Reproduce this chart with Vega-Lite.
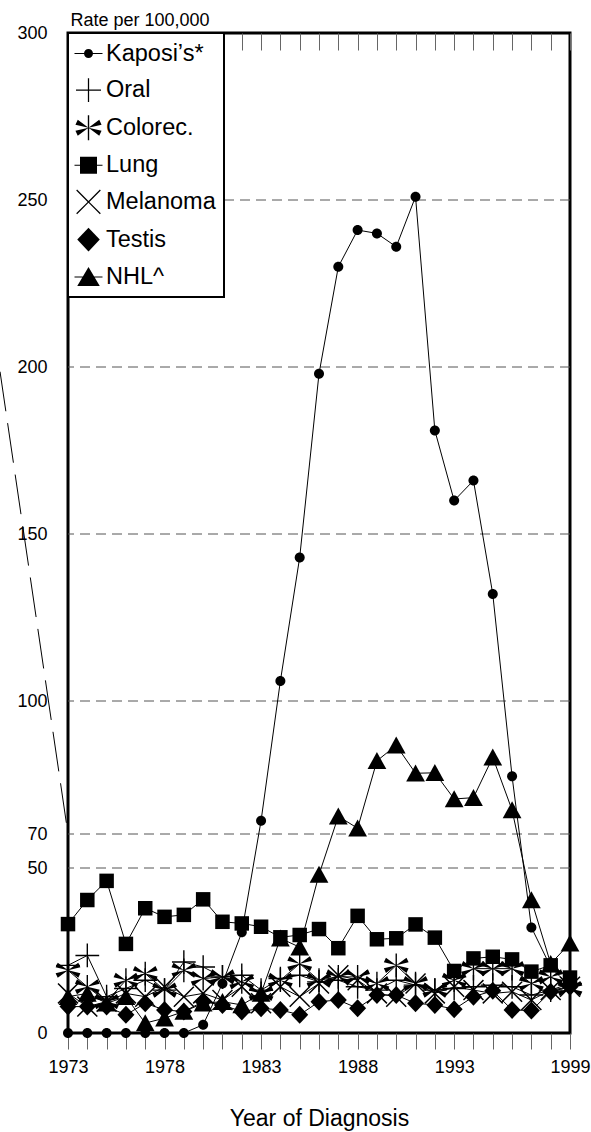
{
  "$schema": "https://vega.github.io/schema/vega-lite/v6.json",
  "width": 502,
  "height": 1000,
  "autosize": {"type": "none"},
  "padding": {"left": 68, "top": 33, "right": 21, "bottom": 99},
  "background": "white",
  "config": {
    "font": "Liberation Sans",
    "view": {"stroke": "black", "strokeWidth": 3},
    "axis": {"labelColor": "black", "titleColor": "black", "titleFontWeight": "normal"},
    "legend": {"strokeWidth": 2}
  },
  "datasets": {
    "breakline": [{"year": 1969.48, "rate": 198.6, "year2": 1973, "rate2": 70}],
    "gridlines": [{"rate": 50}, {"rate": 70}, {"rate": 100}, {"rate": 150}, {"rate": 200}, {"rate": 250}],
    "cancer": [
      {"year":1973,"series":"Kaposi’s*","rate":0},{"year":1974,"series":"Kaposi’s*","rate":0},{"year":1975,"series":"Kaposi’s*","rate":0},{"year":1976,"series":"Kaposi’s*","rate":0},{"year":1977,"series":"Kaposi’s*","rate":0},{"year":1978,"series":"Kaposi’s*","rate":0},{"year":1979,"series":"Kaposi’s*","rate":0},{"year":1980,"series":"Kaposi’s*","rate":2.5},{"year":1981,"series":"Kaposi’s*","rate":15},{"year":1982,"series":"Kaposi’s*","rate":30.5},{"year":1983,"series":"Kaposi’s*","rate":73},{"year":1984,"series":"Kaposi’s*","rate":106},{"year":1985,"series":"Kaposi’s*","rate":143},{"year":1986,"series":"Kaposi’s*","rate":198},{"year":1987,"series":"Kaposi’s*","rate":230},{"year":1988,"series":"Kaposi’s*","rate":241},{"year":1989,"series":"Kaposi’s*","rate":240},{"year":1990,"series":"Kaposi’s*","rate":236},{"year":1991,"series":"Kaposi’s*","rate":251},{"year":1992,"series":"Kaposi’s*","rate":181},{"year":1993,"series":"Kaposi’s*","rate":160},{"year":1994,"series":"Kaposi’s*","rate":166},{"year":1995,"series":"Kaposi’s*","rate":132},{"year":1996,"series":"Kaposi’s*","rate":83},{"year":1997,"series":"Kaposi’s*","rate":32},{"year":1998,"series":"Kaposi’s*","rate":20},{"year":1999,"series":"Kaposi’s*","rate":14},
      {"year":1973,"series":"Oral","rate":20.5},{"year":1974,"series":"Oral","rate":23.5},{"year":1975,"series":"Oral","rate":11},{"year":1976,"series":"Oral","rate":13.5},{"year":1977,"series":"Oral","rate":16},{"year":1978,"series":"Oral","rate":13},{"year":1979,"series":"Oral","rate":21.5},{"year":1980,"series":"Oral","rate":20},{"year":1981,"series":"Oral","rate":17},{"year":1982,"series":"Oral","rate":17.5},{"year":1983,"series":"Oral","rate":13},{"year":1984,"series":"Oral","rate":16.5},{"year":1985,"series":"Oral","rate":17.5},{"year":1986,"series":"Oral","rate":15.5},{"year":1987,"series":"Oral","rate":16},{"year":1988,"series":"Oral","rate":14},{"year":1989,"series":"Oral","rate":13},{"year":1990,"series":"Oral","rate":16},{"year":1991,"series":"Oral","rate":14.5},{"year":1992,"series":"Oral","rate":13},{"year":1993,"series":"Oral","rate":13.5},{"year":1994,"series":"Oral","rate":14},{"year":1995,"series":"Oral","rate":14.5},{"year":1996,"series":"Oral","rate":14},{"year":1997,"series":"Oral","rate":11.5},{"year":1998,"series":"Oral","rate":13},{"year":1999,"series":"Oral","rate":15},
      {"year":1973,"series":"Colorec.","rate":19},{"year":1974,"series":"Colorec.","rate":14},{"year":1975,"series":"Colorec.","rate":9.5},{"year":1976,"series":"Colorec.","rate":16},{"year":1977,"series":"Colorec.","rate":18},{"year":1978,"series":"Colorec.","rate":13},{"year":1979,"series":"Colorec.","rate":19},{"year":1980,"series":"Colorec.","rate":16.5},{"year":1981,"series":"Colorec.","rate":17},{"year":1982,"series":"Colorec.","rate":15.5},{"year":1983,"series":"Colorec.","rate":12},{"year":1984,"series":"Colorec.","rate":16},{"year":1985,"series":"Colorec.","rate":21},{"year":1986,"series":"Colorec.","rate":16},{"year":1987,"series":"Colorec.","rate":17},{"year":1988,"series":"Colorec.","rate":17},{"year":1989,"series":"Colorec.","rate":15},{"year":1990,"series":"Colorec.","rate":20.5},{"year":1991,"series":"Colorec.","rate":15},{"year":1992,"series":"Colorec.","rate":13},{"year":1993,"series":"Colorec.","rate":16},{"year":1994,"series":"Colorec.","rate":19.5},{"year":1995,"series":"Colorec.","rate":19.5},{"year":1996,"series":"Colorec.","rate":19.5},{"year":1997,"series":"Colorec.","rate":15},{"year":1998,"series":"Colorec.","rate":17},{"year":1999,"series":"Colorec.","rate":13.5},
      {"year":1973,"series":"Lung","rate":33},{"year":1974,"series":"Lung","rate":40.3},{"year":1975,"series":"Lung","rate":46.1},{"year":1976,"series":"Lung","rate":27},{"year":1977,"series":"Lung","rate":37.8},{"year":1978,"series":"Lung","rate":35.2},{"year":1979,"series":"Lung","rate":35.8},{"year":1980,"series":"Lung","rate":40.5},{"year":1981,"series":"Lung","rate":33.7},{"year":1982,"series":"Lung","rate":33.2},{"year":1983,"series":"Lung","rate":32.2},{"year":1984,"series":"Lung","rate":29},{"year":1985,"series":"Lung","rate":29.7},{"year":1986,"series":"Lung","rate":31.5},{"year":1987,"series":"Lung","rate":25.7},{"year":1988,"series":"Lung","rate":35.5},{"year":1989,"series":"Lung","rate":28.4},{"year":1990,"series":"Lung","rate":28.7},{"year":1991,"series":"Lung","rate":32.9},{"year":1992,"series":"Lung","rate":28.9},{"year":1993,"series":"Lung","rate":18.8},{"year":1994,"series":"Lung","rate":22.6},{"year":1995,"series":"Lung","rate":23.1},{"year":1996,"series":"Lung","rate":22.3},{"year":1997,"series":"Lung","rate":18.6},{"year":1998,"series":"Lung","rate":20.5},{"year":1999,"series":"Lung","rate":16.8},
      {"year":1973,"series":"Melanoma","rate":12},{"year":1974,"series":"Melanoma","rate":8},{"year":1975,"series":"Melanoma","rate":9.5},{"year":1976,"series":"Melanoma","rate":12},{"year":1977,"series":"Melanoma","rate":11},{"year":1978,"series":"Melanoma","rate":14},{"year":1979,"series":"Melanoma","rate":11},{"year":1980,"series":"Melanoma","rate":12},{"year":1981,"series":"Melanoma","rate":10},{"year":1982,"series":"Melanoma","rate":14},{"year":1983,"series":"Melanoma","rate":9},{"year":1984,"series":"Melanoma","rate":14},{"year":1985,"series":"Melanoma","rate":11},{"year":1986,"series":"Melanoma","rate":15},{"year":1987,"series":"Melanoma","rate":17.5},{"year":1988,"series":"Melanoma","rate":16},{"year":1989,"series":"Melanoma","rate":12},{"year":1990,"series":"Melanoma","rate":11},{"year":1991,"series":"Melanoma","rate":15},{"year":1992,"series":"Melanoma","rate":12},{"year":1993,"series":"Melanoma","rate":14},{"year":1994,"series":"Melanoma","rate":13},{"year":1995,"series":"Melanoma","rate":12},{"year":1996,"series":"Melanoma","rate":12.5},{"year":1997,"series":"Melanoma","rate":10},{"year":1998,"series":"Melanoma","rate":13},{"year":1999,"series":"Melanoma","rate":14},
      {"year":1973,"series":"Testis","rate":8},{"year":1974,"series":"Testis","rate":8},{"year":1975,"series":"Testis","rate":8},{"year":1976,"series":"Testis","rate":5.5},{"year":1977,"series":"Testis","rate":9},{"year":1978,"series":"Testis","rate":7},{"year":1979,"series":"Testis","rate":6.5},{"year":1980,"series":"Testis","rate":9.5},{"year":1981,"series":"Testis","rate":8.5},{"year":1982,"series":"Testis","rate":6.5},{"year":1983,"series":"Testis","rate":7.5},{"year":1984,"series":"Testis","rate":7},{"year":1985,"series":"Testis","rate":5.5},{"year":1986,"series":"Testis","rate":9.5},{"year":1987,"series":"Testis","rate":10},{"year":1988,"series":"Testis","rate":7.5},{"year":1989,"series":"Testis","rate":11.5},{"year":1990,"series":"Testis","rate":11.5},{"year":1991,"series":"Testis","rate":9},{"year":1992,"series":"Testis","rate":8.5},{"year":1993,"series":"Testis","rate":7.2},{"year":1994,"series":"Testis","rate":11},{"year":1995,"series":"Testis","rate":12.8},{"year":1996,"series":"Testis","rate":7},{"year":1997,"series":"Testis","rate":6.8},{"year":1998,"series":"Testis","rate":12.5},{"year":1999,"series":"Testis","rate":14},
      {"year":1973,"series":"NHL^","rate":11},{"year":1974,"series":"NHL^","rate":12},{"year":1975,"series":"NHL^","rate":9},{"year":1976,"series":"NHL^","rate":11},{"year":1977,"series":"NHL^","rate":3},{"year":1978,"series":"NHL^","rate":4.5},{"year":1979,"series":"NHL^","rate":6.5},{"year":1980,"series":"NHL^","rate":9},{"year":1981,"series":"NHL^","rate":9.5},{"year":1982,"series":"NHL^","rate":8.5},{"year":1983,"series":"NHL^","rate":12},{"year":1984,"series":"NHL^","rate":28.7},{"year":1985,"series":"NHL^","rate":26},{"year":1986,"series":"NHL^","rate":48},{"year":1987,"series":"NHL^","rate":74},{"year":1988,"series":"NHL^","rate":71.3},{"year":1989,"series":"NHL^","rate":86.5},{"year":1990,"series":"NHL^","rate":90},{"year":1991,"series":"NHL^","rate":83.7},{"year":1992,"series":"NHL^","rate":83.8},{"year":1993,"series":"NHL^","rate":77.9},{"year":1994,"series":"NHL^","rate":78.2},{"year":1995,"series":"NHL^","rate":87.3},{"year":1996,"series":"NHL^","rate":75.4},{"year":1997,"series":"NHL^","rate":40.3},{"year":1998,"series":"NHL^","rate":21},{"year":1999,"series":"NHL^","rate":27.2}
    ]
  },
  "data": {"name": "cancer"},
  "encoding": {
    "y": {
      "field": "rate",
      "type": "quantitative",
      "scale": {"domain": [0, 50, 70, 100, 300], "range": [1000, 835, 801, 668, 0], "nice": false, "zero": false},
      "axis": {
        "values": [0, 50, 70, 100, 150, 200, 250, 300],
        "ticks": false,
        "domain": false,
        "grid": false,
        "labelFontSize": 18,
        "labelPadding": 21,
        "labelColor": "black",
        "labelFlush": false,
        "labelOverlap": false,
        "title": "Rate per 100,000",
        "titleAngle": 0,
        "titleX": 2,
        "titleY": -8,
        "titleAlign": "left",
        "titleBaseline": "alphabetic",
        "titleFontSize": 18,
        "titleFontWeight": "normal",
        "titleColor": "black"
      }
    }
  },
  "layer": [
    {
      "data": {"name": "gridlines"},
      "mark": {"type": "rule", "color": "#555555", "strokeWidth": 1, "strokeDash": [10, 6]},
      "encoding": {}
    },
    {
      "data": {"name": "breakline"},
      "mark": {"type": "rule", "color": "black", "strokeWidth": 1, "strokeDash": [40, 12], "clip": false},
      "encoding": {
        "x": {"field": "year", "type": "quantitative", "scale": {"domain": [1973, 1999], "nice": false, "zero": false}, "axis": null},
        "x2": {"field": "year2"},
        "y2": {"field": "rate2"}
      }
    },
    {
      "mark": {"type": "line", "color": "black", "strokeWidth": 1},
      "encoding": {
        "x": {
          "field": "year",
          "type": "quantitative",
          "scale": {"domain": [1973, 1999], "nice": false, "zero": false},
          "axis": {
            "orient": "bottom",
            "values": [1973,1974,1975,1976,1977,1978,1979,1980,1981,1982,1983,1984,1985,1986,1987,1988,1989,1990,1991,1992,1993,1994,1995,1996,1997,1998,1999],
            "format": "d",
            "labelExpr": "indexof([1973,1978,1983,1988,1993,1999], datum.value) >= 0 ? datum.label : ''",
            "tickSize": 16,
            "tickColor": "#666666",
            "tickWidth": 1,
            "domain": false,
            "grid": false,
            "labelFontSize": 18,
            "labelPadding": 9,
            "labelColor": "black",
            "labelFlush": false,
            "labelOverlap": false,
            "title": "Year of Diagnosis",
            "titleFontSize": 23,
            "titleFontWeight": "normal",
            "titleColor": "black",
            "titleX": 251,
            "titleY": 92,
            "titleAlign": "center",
            "titleBaseline": "alphabetic"
          }
        },
        "detail": {"field": "series"}
      }
    },
    {
      "mark": {"type": "point", "filled": true, "color": "black", "size": 625, "opacity": 1, "strokeWidth": 0},
      "encoding": {
        "x": {
          "field": "year",
          "type": "quantitative",
          "axis": {
            "orient": "top",
            "values": [1973,1974,1975,1976,1977,1978,1979,1980,1981,1982,1983,1984,1985,1986,1987,1988,1989,1990,1991,1992,1993,1994,1995,1996,1997,1998,1999],
            "tickSize": -17,
            "tickColor": "#666666",
            "tickWidth": 1,
            "labels": false,
            "domain": false,
            "grid": false,
            "title": null
          }
        },
        "shape": {
          "field": "series",
          "type": "nominal",
          "scale": {
            "domain": ["Kaposi’s*", "Oral", "Colorec.", "Lung", "Melanoma", "Testis", "NHL^"],
            "range": [
              "M0.4,0A0.4,0.4,0,1,1,-0.4,0A0.4,0.4,0,1,1,0.4,0Z",
              "M-0.95,-0.055H-0.055V-0.95H0.055V-0.055H0.95V0.055H0.055V0.95H-0.055V0.055H-0.95Z",
              "M-0.055,-0.95H0.055V0.95H-0.055Z M0,0L0.821,-0.604L0.991,-0.242Z M0,0L-0.991,-0.242L-0.821,-0.604Z M0,0L0.991,0.242L0.821,0.604Z M0,0L-0.821,0.604L-0.991,0.242Z",
              "M-0.58,-0.58H0.58V0.58H-0.58Z",
              "M-0.757,-0.841L0,-0.085L0.757,-0.841L0.841,-0.757L0.085,0L0.841,0.757L0.757,0.841L0,0.085L-0.757,0.841L-0.841,0.757L-0.085,0L-0.841,-0.757Z",
              "M0,-0.72L0.68,0L0,0.72L-0.68,0Z",
              "M0,-0.7L0.75,0.66L-0.75,0.66Z"
            ]
          },
          "legend": null
        }
      }
    },
    {
      "transform": [{"filter": "false"}],
      "mark": {"type": "point", "filled": true, "color": "black", "size": 625, "opacity": 1, "strokeWidth": 0},
      "encoding": {
        "x": {"field": "year", "type": "quantitative", "axis": null},
        "shape": {
          "field": "series",
          "type": "nominal",
          "scale": {
            "domain": ["Kaposi’s*", "Oral", "Colorec.", "Lung", "Melanoma", "Testis", "NHL^"],
            "range": [
              "M-1.12,-0.04H1.12V0.04H-1.12Z M0.36,0A0.36,0.36,0,1,1,-0.36,0A0.36,0.36,0,1,1,0.36,0Z",
              "M-1,-0.05H-0.05V-0.95H0.05V-0.05H1V0.05H0.05V0.95H-0.05V0.05H-1Z",
              "M-0.055,-1H0.055V1H-0.055Z M0,0L0.859,-0.643L1.045,-0.245Z M0,0L-1.045,-0.245L-0.859,-0.643Z M0,0L1.045,0.245L0.859,0.643Z M0,0L-0.859,0.643L-1.045,0.245Z",
              "M-1.12,-0.04H1.12V0.04H-1.12Z M-0.68,-0.68H0.68V0.68H-0.68Z",
              "M-0.912,-0.983L0,-0.071L0.912,-0.983L0.983,-0.912L0.071,0L0.983,0.912L0.912,0.983L0,0.071L-0.912,0.983L-0.983,0.912L-0.071,0L-0.983,-0.912Z",
              "M0,-0.95L0.9,0L0,0.95L-0.9,0Z",
              "M-1.12,-0.04H1.12V0.04H-1.12Z M0,-0.8L0.9,0.72L-0.9,0.72Z"
            ]
          },
          "legend": {
            "orient": "none",
            "legendX": 0,
            "legendY": 0,
            "title": null,
            "padding": 8,
            "fillColor": "white",
            "strokeColor": "black",
            "labelFont": "Liberation Sans",
            "labelFontSize": 23.5,
            "labelColor": "black",
            "labelOffset": 5,
            "labelLimit": 300,
            "rowPadding": 12.6,
            "symbolSize": 625,
            "symbolFillColor": "black",
            "symbolStrokeWidth": 0,
            "symbolOpacity": 1
          }
        }
      }
    }
  ],
  "resolve": {"scale": {"shape": "independent"}, "axis": {"x": "independent"}}
}
